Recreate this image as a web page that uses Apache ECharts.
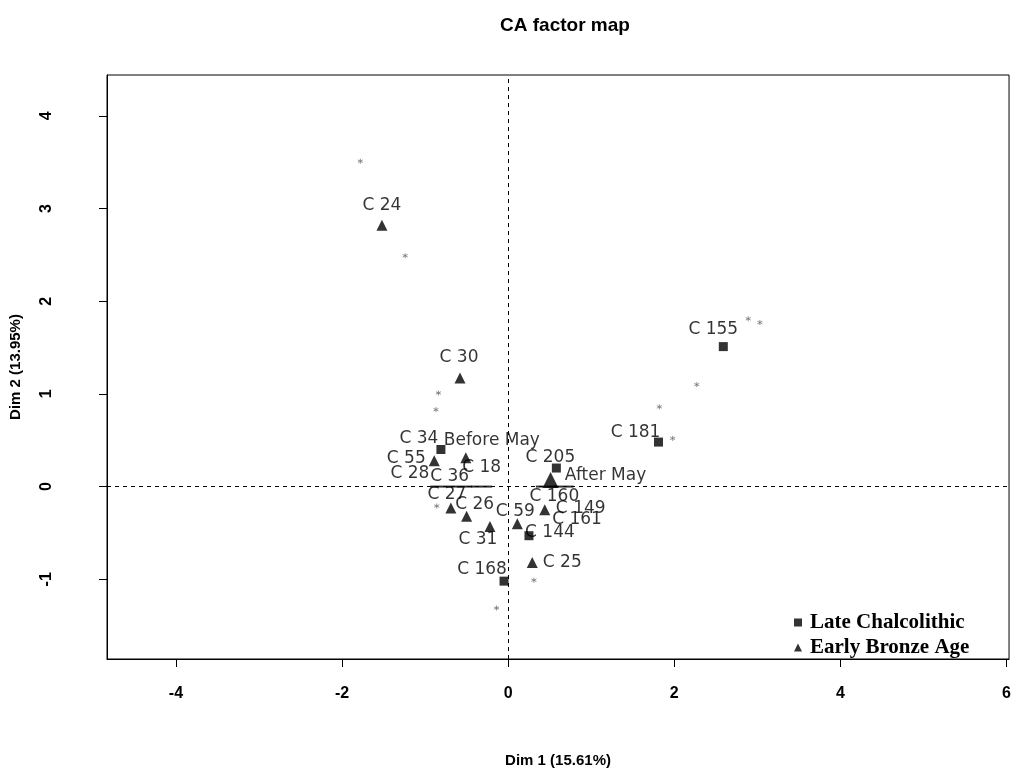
<!DOCTYPE html>
<html>
<head>
<meta charset="utf-8">
<title>CA factor map</title>
<script src="https://cdn.jsdelivr.net/npm/echarts@6/dist/echarts.min.js"></script>
<style>
  html, body { margin: 0; padding: 0; background: #fff; }
  #chart { width: 1014px; height: 773px; }
</style>
</head>
<body>
<div id="chart"></div>
<script>
// Column coordinates on the first two CA dimensions
const lateNames = ['C 155', 'C 181', 'C 34', 'C 205', 'C 168', 'C 144'];
const lateDim1  = [2.59, 1.81, -0.81, 0.58, -0.05, 0.25];
const lateDim2  = [1.51, 0.48, 0.40, 0.20, -1.02, -0.53];

const earlyNames = ['C 24', 'C 30', 'C 55', 'C 27', 'C 26', 'C 31', 'C 59', 'C 149', 'C 25'];
const earlyDim1  = [-1.52, -0.58, -0.89, -0.69, -0.50, -0.22, 0.11, 0.44, 0.29];
const earlyDim2  = [2.82, 1.17, 0.28, -0.23, -0.32, -0.43, -0.40, -0.25, -0.82];

// Supplementary period points
const periodNames = ['Before May', 'After May'];
const periodDim1  = [-0.51, 0.51];
const periodDim2  = [0.31, 0.07];

// Columns sitting on the horizontal axis, drawn as short strokes
const axisNames = ['C 28', 'C 36', 'C 18', 'C 160', 'C 161'];
const axisDim1  = [-0.81, -0.56, -0.32, 0.46, 0.66];
const axisDim2  = [0.0, 0.0, 0.0, 0.0, 0.0];

// Row points (unlabelled)
const rowDim1 = [-1.78, -1.24, -0.84, -0.87, 2.89, 3.03, 2.27, 1.82, 1.98, 0.31, -0.14, -0.86];
const rowDim2 = [3.51, 2.49, 1.01, 0.83, 1.81, 1.77, 1.10, 0.86, 0.52, -1.01, -1.31, -0.21];

const xTicks = [-4, -2, 0, 2, 4, 6];
const yTicks = [-1, 0, 1, 2, 3, 4];

// Label placement (pixel shift from each point)
const labelShift = {
  'C 24': [0, -20], 'C 30': [-1, -21], 'C 155': [-10, -17], 'C 181': [-23, -10],
  'C 34': [-22, -11], 'Before May': [26, -17], 'C 55': [-28, -2], 'C 28': [-31, -13],
  'C 36': [-12, -10], 'C 18': [0, -19], 'C 27': [-4, -13], 'C 26': [8, -12],
  'C 31': [-12, 13], 'C 59': [-2, -12], 'C 160': [8, 10], 'C 149': [36, -1],
  'C 161': [14, 33], 'C 144': [21, -3], 'C 25': [30, 0], 'C 168': [-22, -12],
  'C 205': [-6, -10], 'After May': [55, -5]
};

function items(names, d1, d2, extra) {
  return names.map((n, i) => Object.assign({
    name: n,
    value: [d1[i], d2[i]],
    label: { offset: labelShift[n] || [0, -18] }
  }, extra ? extra(n) : {}));
}

const labelStyle = {
  show: true,
  position: 'inside',
  formatter: '{b}',
  color: '#000',
  fontFamily: 'DejaVu Sans',
  fontSize: 17
};

const chart = echarts.init(document.getElementById('chart'), null, { renderer: 'canvas' });

chart.setOption({
  animation: false,
  backgroundColor: '#fff',
  title: {
    text: 'CA factor map',
    left: 560,
    top: 11,
    textAlign: 'center',
    textStyle: { fontFamily: 'Liberation Sans', fontWeight: 'bold', fontSize: 19, color: '#000' }
  },
  grid: {
    left: 106, top: 75, right: 3, bottom: 110,
    show: true, borderColor: '#000', borderWidth: 1, backgroundColor: 'transparent'
  },
  legend: {
    data: ['Late Chalcolithic', 'Early Bronze Age'],
    orient: 'vertical',
    left: 789,
    top: 607,
    itemWidth: 8,
    itemHeight: 8,
    itemGap: 4,
    textStyle: { fontFamily: 'Liberation Serif', fontWeight: 'bold', fontSize: 21, color: '#000', padding: [0, 0, 0, 3] }
  },
  xAxis: {
    type: 'value',
    min: -4.83,
    max: 6.03,
    position: 'bottom',
    splitLine: { show: false },
    axisLine: { show: true, onZero: false, lineStyle: { color: '#000', width: 1 } },
    axisTick: { show: true, length: 8, customValues: xTicks, lineStyle: { color: '#000' } },
    axisLabel: {
      customValues: xTicks, margin: 27, color: '#000',
      fontFamily: 'Liberation Sans', fontWeight: 'bold', fontSize: 16
    },
    name: 'Dim 1 (15.61%)',
    nameLocation: 'middle',
    nameGap: 94,
    nameTextStyle: { fontFamily: 'Liberation Sans', fontWeight: 'bold', fontSize: 15, color: '#000' }
  },
  yAxis: {
    type: 'value',
    min: -1.86,
    max: 4.44,
    position: 'left',
    splitLine: { show: false },
    axisLine: { show: true, onZero: false, lineStyle: { color: '#000', width: 1 } },
    axisTick: { show: true, length: 8, customValues: yTicks, lineStyle: { color: '#000' } },
    axisLabel: {
      customValues: yTicks, rotate: 90, margin: 52, color: '#000',
      fontFamily: 'Liberation Sans', fontWeight: 'bold', fontSize: 16
    },
    name: 'Dim 2 (13.95%)',
    nameLocation: 'middle',
    nameGap: 84,
    nameTextStyle: { fontFamily: 'Liberation Sans', fontWeight: 'bold', fontSize: 15, color: '#000' }
  },
  series: [
    {
      name: 'rows',
      type: 'scatter',
      symbol: 'path://M0,-5L0,5M-4.3,-2.5L4.3,2.5M-4.3,2.5L4.3,-2.5',
      symbolSize: 5,
      itemStyle: { color: 'rgba(0,0,0,0)', borderColor: '#777', borderWidth: 1 },
      data: rowDim1.map((x, i) => [x, rowDim2[i]]),
      silent: true,
      z: 1,
      markLine: {
        silent: true,
        symbol: 'none',
        label: { show: false },
        lineStyle: { color: '#000', type: [4, 4], width: 1 },
        data: [{ xAxis: 0 }, { yAxis: 0 }]
      }
    },
    {
      name: 'on axis',
      type: 'scatter',
      symbol: 'rect',
      symbolSize: [21, 2],
      itemStyle: { color: '#000' },
      label: labelStyle,
      data: items(axisNames, axisDim1, axisDim2),
      z: 3
    },
    {
      name: 'Late Chalcolithic',
      type: 'scatter',
      symbol: 'rect',
      symbolSize: 9,
      itemStyle: { color: '#000' },
      label: labelStyle,
      data: items(lateNames, lateDim1, lateDim2),
      z: 4
    },
    {
      name: 'Early Bronze Age',
      type: 'scatter',
      symbol: 'triangle',
      symbolSize: 11,
      itemStyle: { color: '#000' },
      label: labelStyle,
      data: items(earlyNames, earlyDim1, earlyDim2)
        .concat(items(periodNames, periodDim1, periodDim2,
          n => (n === 'After May' ? { symbolSize: 16 } : {}))),
      z: 4
    }
  ]
});
</script>
</body>
</html>
